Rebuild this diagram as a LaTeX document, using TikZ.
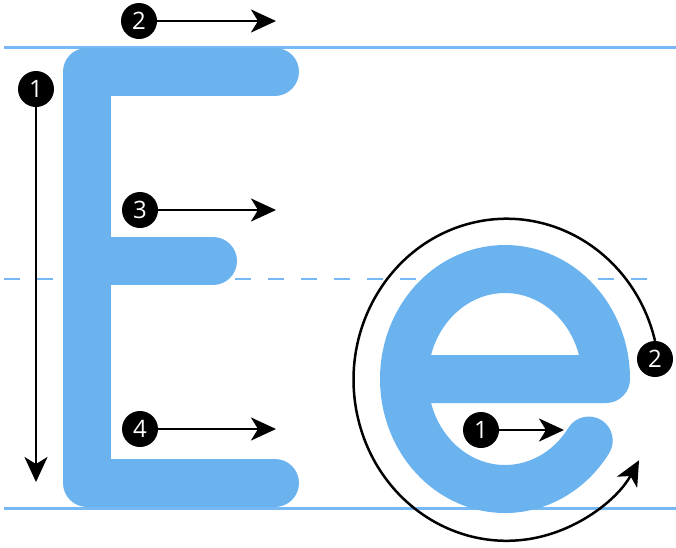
\documentclass[tikz,border=0pt]{standalone}
\usepackage{fontspec}
\setmainfont{Open Sans}
\usetikzlibrary{arrows.meta}
\definecolor{letterblue}{RGB}{107,179,238}
\definecolor{guideblue}{RGB}{118,185,244}
\begin{document}
\begin{tikzpicture}[x=1pt,y=-1pt,
  guide/.style={guideblue, line width=3pt},
  guidedash/.style={guideblue, line width=2pt, dash pattern=on 16pt off 17pt},
  letter/.style={letterblue, line width=48pt, line cap=round, line join=round},
  num/.style={circle, fill=black, text=white, minimum size=36pt, inner sep=0pt, font=\fontsize{24}{24}\selectfont},
  arr/.style={line width=2.5pt, -{Stealth[length=25pt, width=23pt, inset=7pt]}}]
\useasboundingbox (0,0) rectangle (676,547);
% guide lines
\coordinate (gtl) at (4,47.3); \coordinate (gtr) at (676,47.3);
\coordinate (gml) at (4,279); \coordinate (gmr) at (662,279);
\coordinate (gbl) at (4,508.5); \coordinate (gbr) at (676,508.5);
\draw[guide] (gtl) -- (gtr);
\draw[guidedash] (gml) -- (gmr);
\draw[guide] (gbl) -- (gbr);
% letter E
\draw[letter] (275,71.5) -- (87,71.5) -- (87,483) -- (275,483);
\draw[letter] (87,261) -- (213,261);
% letter e
\draw[letter] (404,379) -- (606,379) arc[start angle=0, end angle=-326, x radius=101, y radius=110];
% stroke order for E
\node[num] (a1) at (36,89) {1};
\coordinate (a1e) at (36,482);
\draw[arr] (a1) -- (a1e);
\node[num] (a2) at (139,21) {2};
\coordinate (a2e) at (276,21);
\draw[arr] (a2) -- (a2e);
\node[num] (a3) at (140,210) {3};
\coordinate (a3e) at (276,210);
\draw[arr] (a3) -- (a3e);
\node[num] (a4) at (140,429) {4};
\coordinate (a4e) at (276,429);
\draw[arr] (a4) -- (a4e);
% stroke order for e
\node[num] (b1) at (481,430) {1};
\coordinate (b1e) at (564,430);
\draw[arr] (b1) -- (b1e);
\node[num] (b2) at (655,359) {2};
\draw[arr] (b2.north) arc[start angle=-14, end angle=-330, x radius=153, y radius=161];
\end{tikzpicture}
\end{document}
